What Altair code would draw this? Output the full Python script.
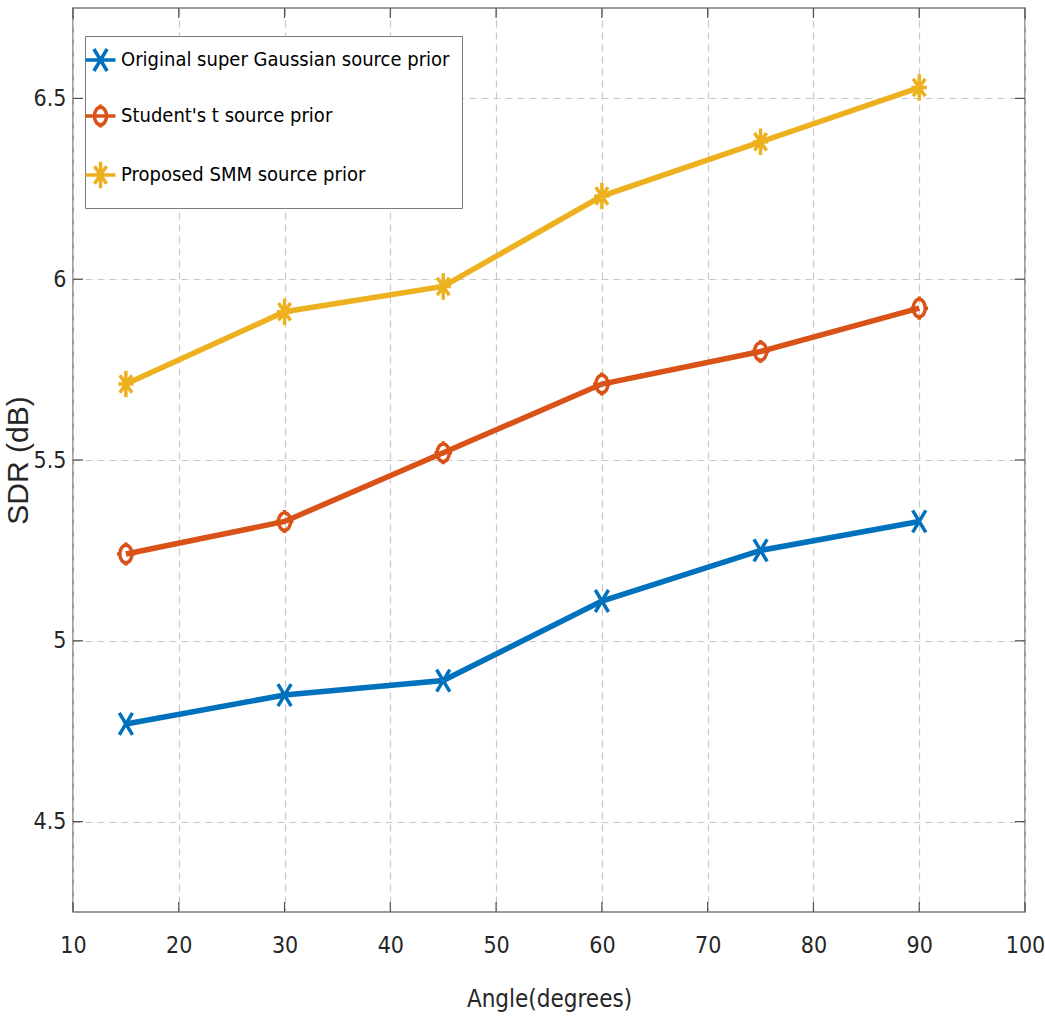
import altair as alt
import pandas as pd

# Source-separation results: SDR versus source angle
angles = [15, 30, 45, 60, 75, 90]
sdr_super_gaussian = [4.77, 4.85, 4.89, 5.11, 5.25, 5.33]
sdr_student_t = [5.24, 5.33, 5.52, 5.71, 5.80, 5.92]
sdr_smm = [5.71, 5.91, 5.98, 6.23, 6.38, 6.53]

series_names = [
    "Original super Gaussian source prior",
    "Student's t source prior",
    "Proposed SMM source prior",
]
series_colors = ["#0072BD", "#D95319", "#EDB120"]

x_ticks = [10, 20, 30, 40, 50, 60, 70, 80, 90, 100]
y_ticks = [4.5, 5.0, 5.5, 6.0, 6.5]

W, H = 952, 904
NARROW = "DejaVu Sans Condensed, Liberation Sans, sans-serif"
REGULAR = "Liberation Sans, sans-serif"


def fmt(v):
    return f"{v:.3f}"


def x_path(cx=0.0, s=1.0):
    a, b = 0.6 * s, 1.0 * s
    return (f"M{fmt(cx - a)},{fmt(-b)}L{fmt(cx + a)},{fmt(b)}"
            f"M{fmt(cx - a)},{fmt(b)}L{fmt(cx + a)},{fmt(-b)}")


def circle_path(cx=0.0, s=1.0):
    rx, ry, sp, sh = 0.55 * s, 0.8 * s, 1.05 * s, 0.8 * s
    return (f"M{fmt(cx + rx)},0A{fmt(rx)},{fmt(ry)} 0 1,1 {fmt(cx - rx)},0"
            f"A{fmt(rx)},{fmt(ry)} 0 1,1 {fmt(cx + rx)},0Z"
            f"M{fmt(cx)},{fmt(-sp)}L{fmt(cx)},{fmt(-ry)}"
            f"M{fmt(cx)},{fmt(ry)}L{fmt(cx)},{fmt(sp)}"
            f"M{fmt(cx - sh)},0L{fmt(cx - rx)},0M{fmt(cx + rx)},0L{fmt(cx + sh)},0")


def star_path(cx=0.0, s=1.0):
    v, h, dx, dy = 1.2 * s, 0.7 * s, 0.55 * s, 0.8 * s
    return (f"M{fmt(cx)},{fmt(-v)}L{fmt(cx)},{fmt(v)}"
            f"M{fmt(cx - h)},0L{fmt(cx + h)},0"
            f"M{fmt(cx - dx)},{fmt(-dy)}L{fmt(cx + dx)},{fmt(dy)}"
            f"M{fmt(cx - dx)},{fmt(dy)}L{fmt(cx + dx)},{fmt(-dy)}")


marker_paths = [x_path(), circle_path(), star_path()]

# legend glyphs: a short line segment with the marker on it
LEG_SHIFT = -0.85
LEG_SCALE = 1.1


def with_segment(p):
    return f"M{fmt(LEG_SHIFT - 1.5)},0L{fmt(LEG_SHIFT + 1.5)},0" + p


legend_paths = [
    with_segment(x_path(LEG_SHIFT, LEG_SCALE)),
    with_segment(circle_path(LEG_SHIFT, LEG_SCALE)),
    with_segment(star_path(LEG_SHIFT, LEG_SCALE)),
]

rows = []
for name, vals in zip(series_names, [sdr_super_gaussian, sdr_student_t, sdr_smm]):
    for a, v in zip(angles, vals):
        rows.append({"Angle": a, "SDR": v, "Series": name})
df = pd.DataFrame(rows)

x_scale = alt.Scale(domain=[10, 100], nice=False, zero=False)
y_scale = alt.Scale(domain=[4.25, 6.75], nice=False, zero=False)

x_enc = alt.X(
    "Angle:Q", scale=x_scale,
    axis=alt.Axis(values=x_ticks, title="Angle(degrees)", labelPadding=22,
                  titlePadding=30, labelFont=NARROW, labelFontSize=23,
                  titleFont=NARROW, titleFontSize=24, format="d",
                  labelFlush=False),
)
y_enc = alt.Y(
    "SDR:Q", scale=y_scale,
    axis=alt.Axis(values=y_ticks, title="SDR (dB)", labelPadding=7,
                  labelFont=NARROW, labelFontSize=23, labelFlush=False,
                  titleFont=REGULAR, titleFontSize=30,
                  titleX=-55, titleY=H / 2, titleAlign="center", titleBaseline="middle",
                  labelExpr="datum.value == 5 || datum.value == 6 ? format(datum.value, 'd') : format(datum.value, '.1f')"),
)

color_scale = alt.Scale(domain=series_names, range=series_colors)

lines = alt.Chart(df).mark_line(strokeWidth=5.5).encode(
    x=x_enc, y=y_enc,
    color=alt.Color("Series:N", scale=color_scale, legend=None),
    detail="Series:N",
)

points = alt.Chart(df).mark_point(filled=False, strokeWidth=3.5, size=484, opacity=1).encode(
    x="Angle:Q", y="SDR:Q",
    color=alt.Color("Series:N", scale=color_scale, legend=None),
    shape=alt.Shape("Series:N", scale=alt.Scale(domain=series_names, range=marker_paths), legend=None),
)

legend_layer = alt.Chart(df).mark_point(filled=False, strokeWidth=3.5, size=400, opacity=0).encode(
    x="Angle:Q", y="SDR:Q",
    color=alt.Color("Series:N", scale=color_scale, title=None,
                    legend=alt.Legend(orient="none", legendX=12, legendY=28,
                                      symbolOpacity=1, symbolStrokeWidth=3.5)),
    shape=alt.Shape("Series:N", scale=alt.Scale(domain=series_names, range=legend_paths), title=None,
                    legend=alt.Legend(orient="none", legendX=12, legendY=28,
                                      symbolOpacity=1, symbolStrokeWidth=3.5)),
)

# inward tick marks on all four sides of the frame
xt = pd.DataFrame({"Angle": x_ticks})
yt = pd.DataFrame({"SDR": y_ticks})
tick_style = dict(color="#4d4d4d", strokeWidth=1.2)
x_ticks_bottom = alt.Chart(xt).mark_rule(**tick_style).encode(
    x=alt.X("Angle:Q", scale=x_scale), y=alt.value(H), y2=alt.value(H - 10))
x_ticks_top = alt.Chart(xt).mark_rule(**tick_style).encode(
    x=alt.X("Angle:Q", scale=x_scale), y=alt.value(0), y2=alt.value(10))
y_ticks_left = alt.Chart(yt).mark_rule(**tick_style).encode(
    y=alt.Y("SDR:Q", scale=y_scale), x=alt.value(0), x2=alt.value(10))
y_ticks_right = alt.Chart(yt).mark_rule(**tick_style).encode(
    y=alt.Y("SDR:Q", scale=y_scale), x=alt.value(W), x2=alt.value(W - 10))

chart = alt.layer(
    lines, points, legend_layer,
    x_ticks_bottom, x_ticks_top, y_ticks_left, y_ticks_right,
).resolve_scale(
    color="independent", shape="independent"
).properties(
    width=W, height=H,
    autosize=alt.AutoSizeParams(type="none"),
    padding={"left": 73, "top": 8, "right": 20, "bottom": 111},
    background="white",
).configure_view(
    stroke="#7a7a7a", strokeWidth=1.5
).configure_axis(
    grid=True, gridColor="#c8c8c8", gridDash=[7, 5], gridWidth=1.2,
    domain=False, ticks=False,
    labelColor="#262626", titleColor="#262626", titleFontWeight="normal",
).configure_legend(
    labelFont=NARROW, labelFontSize=20, labelColor="#000000",
    labelLimit=0, labelOffset=0,
    symbolSize=400, rowPadding=19, padding=12,
    strokeColor="#7a7a7a", fillColor="white", cornerRadius=0,
)

chart.save("out.html", embed_options={"renderer": "svg", "actions": False})
